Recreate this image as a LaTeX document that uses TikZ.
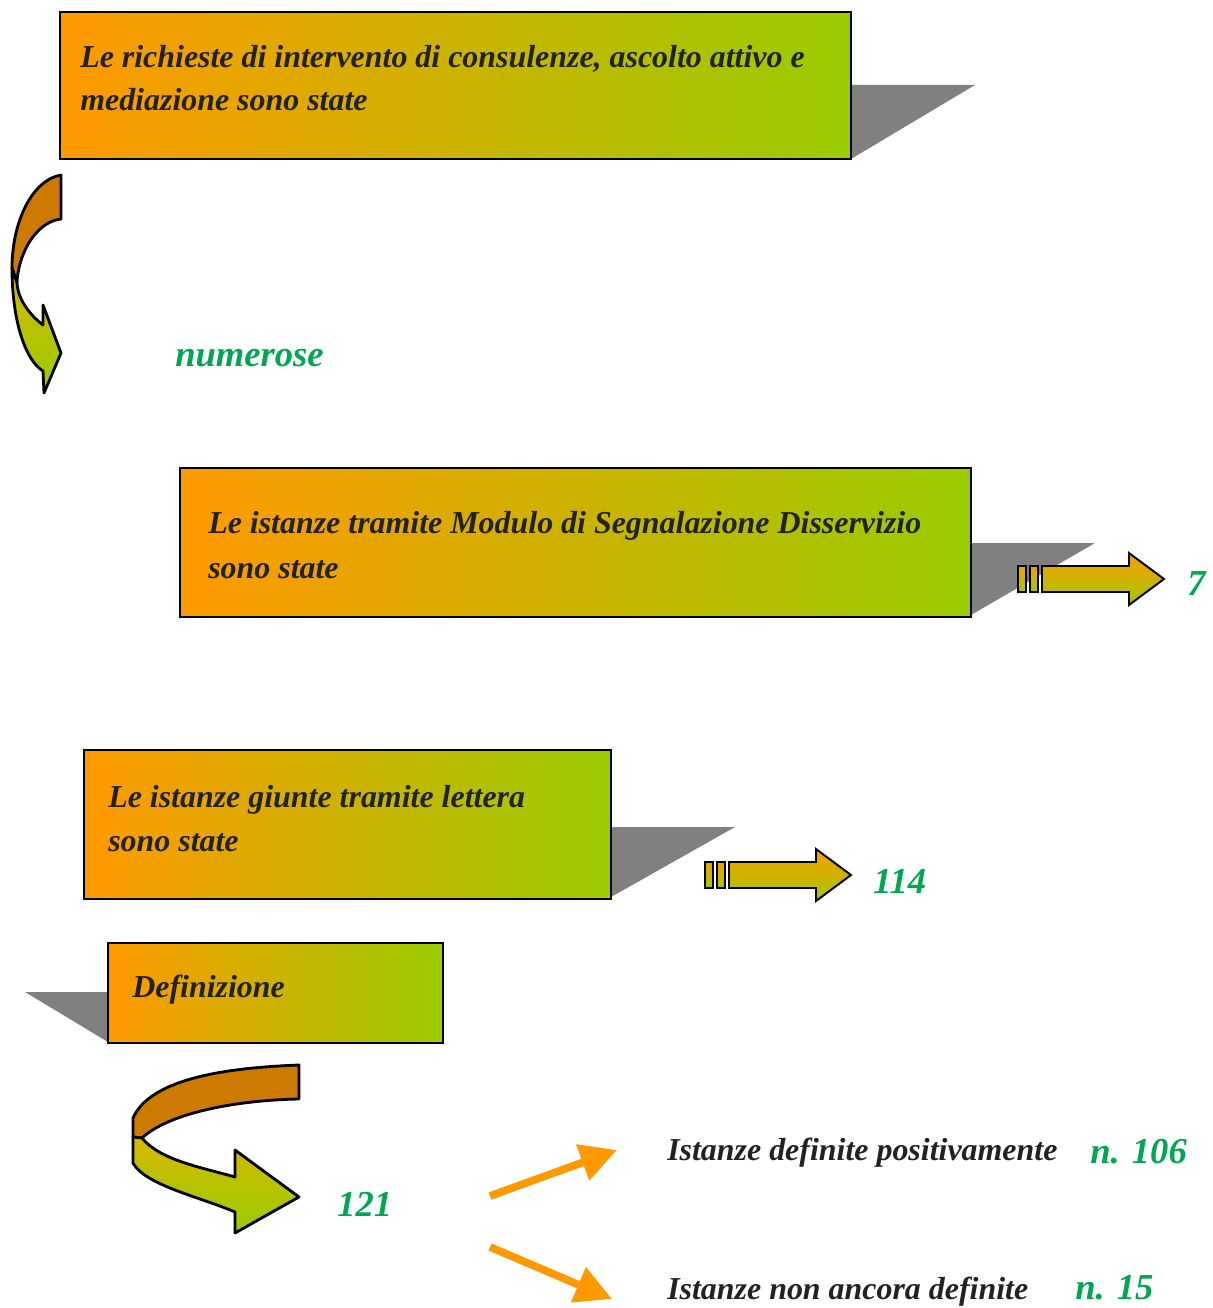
\documentclass[tikz,border=0pt]{standalone}
\usepackage{fontspec}
\setmainfont{Liberation Serif}
\usepackage{tikz}
\usetikzlibrary{arrows.meta}

\definecolor{boxorange}{RGB}{255,153,0}
\definecolor{boxgreen}{RGB}{153,204,0}
\definecolor{ribbonorange}{RGB}{204,122,0}
\definecolor{ribbonyellow}{RGB}{214,184,0}
\definecolor{stripetop}{RGB}{245,160,0}
\definecolor{stripebottom}{RGB}{168,196,0}
\definecolor{numgreen}{RGB}{0,166,81}
\definecolor{textgray}{RGB}{34,34,34}
\definecolor{shadowgray}{RGB}{128,128,128}

\tikzset{
  box/.style={draw=black, line width=1.4pt, left color=boxorange, right color=boxgreen},
  boxshadow/.style={fill=shadowgray},
  boxtext/.style={anchor=base west, inner sep=0pt, text=textgray,
    font=\fontsize{22.7}{27}\selectfont\bfseries\itshape},
  numtext/.style={anchor=base west, inner sep=0pt, text=numgreen,
    font=\fontsize{26}{31}\selectfont\bfseries\itshape},
  ribbon/.style={draw=black, line width=2pt, line join=round},
  orangearrow/.style={draw=boxorange, line width=5.5pt,
    -{Triangle[length=26pt, width=26pt]}},
  stripe arrow/.pic={
    \path[draw=black, line width=1.4pt, top color=stripetop, bottom color=stripebottom]
      (24,-13) -- (111,-13) -- (111,-26) -- (146,0) -- (111,26) -- (111,13) -- (24,13) -- cycle;
    \path[draw=black, line width=1.4pt, top color=stripetop, bottom color=stripebottom]
      (0,-13) rectangle (8,13);
    \path[draw=black, line width=1.4pt, top color=stripetop, bottom color=stripebottom]
      (12,-13) rectangle (20,13);
  }
}

\begin{document}
\begin{tikzpicture}[x=0.025cm, y=-0.025cm]
    \useasboundingbox (0,0) rectangle (1212,1308);

    % shadows
    \fill[boxshadow] (851,85) -- (975,85) -- (851,159) -- cycle;
    \fill[boxshadow] (971,543) -- (1095,543) -- (971,615) -- cycle;
    \fill[boxshadow] (611,827) -- (735,827) -- (611,897) -- cycle;
    \fill[boxshadow] (108,992) -- (25,992) -- (108,1042) -- cycle;

    % boxes
    \path[box] (60,12) rectangle (851,159);
    \path[box] (180,468) rectangle (971,617);
    \path[box] (84,750) rectangle (611,899);
    \path[box] (108,943) rectangle (443,1043);

    \node[boxtext] (richieste1) at (80,68)  {Le richieste di intervento di consulenze, ascolto attivo e};
    \node[boxtext] (richieste2) at (80,111) {mediazione sono state};
    \node[boxtext] (modulo1) at (208,533) {Le istanze tramite Modulo di Segnalazione Disservizio};
    \node[boxtext] (modulo2) at (208,578) {sono state};
    \node[boxtext] (lettera1) at (108,807) {Le istanze giunte tramite lettera};
    \node[boxtext] (lettera2) at (108,851) {sono state};
    \node[boxtext] (definizione) at (132,997) {Definizione};

    % curved ribbon, top
    \path[ribbon, fill=ribbonorange] (61,175) .. controls (32,180) and (12,222) .. (12,268)
      -- (17,283) .. controls (18,255) and (35,222) .. (61,219) -- cycle;
    \path[ribbon, top color=ribbonyellow, bottom color=boxgreen] (12,268)
      .. controls (12,320) and (25,360) .. (43,371) -- (44,393) -- (61,353) -- (43,305)
      -- (43,325) .. controls (30,315) and (18,300) .. (17,283) -- cycle;

    % curved ribbon, bottom
    \path[ribbon, fill=ribbonorange] (299,1065) -- (299,1099)
      .. controls (240,1100) and (170,1112) .. (142,1138) -- (133,1137) -- (133,1118)
      .. controls (150,1080) and (220,1068) .. (299,1065) -- cycle;
    \path[ribbon, top color=ribbonyellow, bottom color=boxgreen] (133,1137) -- (133,1163)
      .. controls (145,1185) and (200,1197) .. (235,1212) -- (235,1233) -- (299,1197)
      -- (235,1150) -- (235,1177) .. controls (200,1167) and (160,1160) .. (142,1138) -- cycle;

    % striped arrows
    \pic at (1018,579) {stripe arrow};
    \pic at (705,875) {stripe arrow};

    \node[numtext] (numerose) at (175,366) {numerose};
    \node[numtext] (sette) at (1187,595) {7};
    \node[numtext] (centoquattordici) at (873,893) {114};
    \node[numtext] (totale) at (337,1216) {121};

    % outcome arrows
    \coordinate (posstart) at (490,1196);
    \coordinate (posend) at (617,1150);
    \coordinate (negstart) at (490,1247);
    \coordinate (negend) at (612,1299);
    \draw[orangearrow] (posstart) -- (posend);
    \draw[orangearrow] (negstart) -- (negend);

    \node[boxtext] (positive) at (667,1160) {Istanze definite positivamente};
    \node[numtext] (positivenum) at (1090,1163) {n. 106};
    \node[boxtext] (pending) at (667,1299) {Istanze non ancora definite};
    \node[numtext] (pendingnum) at (1075,1299) {n. 15};
\end{tikzpicture}
\end{document}
